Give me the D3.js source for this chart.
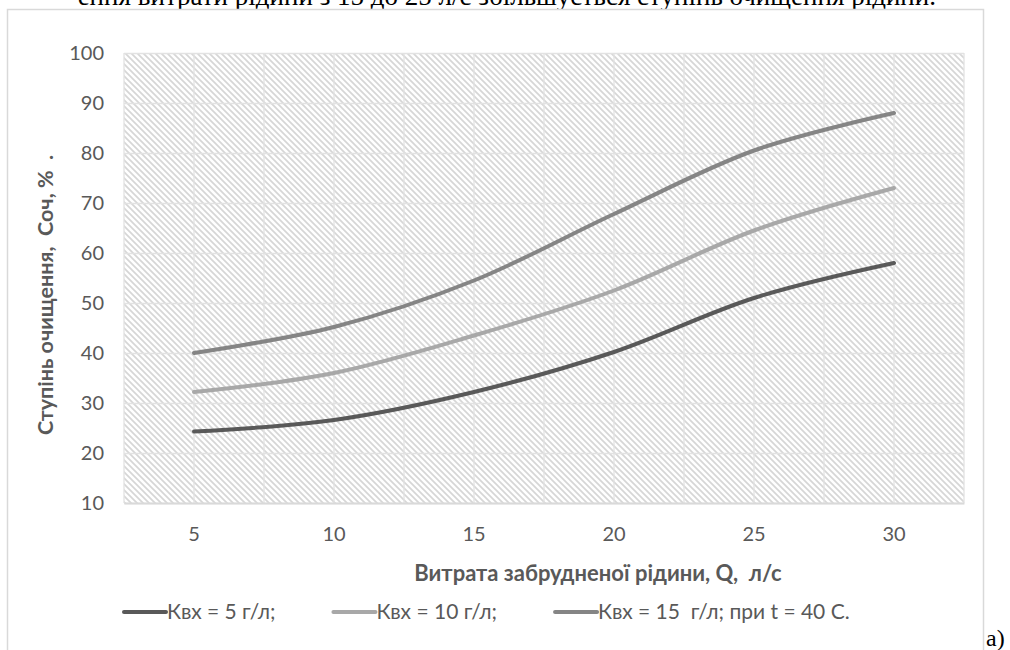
<!DOCTYPE html>
<html>
<head>
<meta charset="utf-8">
<script src="https://cdn.jsdelivr.net/npm/d3@7"></script>
<style>
  body { margin: 0; background: #fff; }
  svg { display: block; }
  text { white-space: pre; }
</style>
</head>
<body>
<div id="chart"></div>
<script>
// data
var categories = [5, 10, 15, 20, 25, 30];
var kvx5 = [24.3, 26.6, 32.2, 40.2, 51.0, 58.0];
var kvx10 = [32.2, 36.0, 43.5, 52.5, 64.5, 73.0];
var kvx15 = [40.0, 45.2, 54.5, 67.8, 80.5, 88.0];
var yTicks = [10, 20, 30, 40, 50, 60, 70, 80, 90, 100];
var seriesNames = ["Квх = 5 г/л;", "Квх = 10 г/л;", "Квх = 15  г/л; при t = 40 С."];
var seriesColors = ["#595959", "#a8a8a8", "#858585"];

var width = 1010, height = 650;
var font = "Lato, 'Open Sans', sans-serif";

var svg = d3.select("#chart").append("svg")
    .attr("width", width)
    .attr("height", height);

// hatch fill for the plot area
var defs = svg.append("defs");
var pat = defs.append("pattern")
    .attr("id", "hatch")
    .attr("patternUnits", "userSpaceOnUse")
    .attr("width", 6)
    .attr("height", 6);
pat.append("rect").attr("width", 6).attr("height", 6).attr("fill", "#fff");
pat.append("path")
    .attr("d", "M-1,-1 L7,7 M-4,2 L2,8 M2,-4 L8,2")
    .attr("stroke", "#d6d6d6")
    .attr("stroke-width", 1.7);

// document text cut off at the top
svg.append("text")
    .attr("x", 936)
    .attr("y", 5)
    .attr("text-anchor", "end")
    .style("font-family", "'Liberation Serif', serif")
    .style("font-size", "27px")
    .attr("fill", "#000")
    .text("ення витрати рідини з 15 до 25 л/с збільшується ступінь очищення рідини.");

// chart frame
svg.append("rect")
    .attr("x", 7.5)
    .attr("y", 9.5)
    .attr("width", 976)
    .attr("height", 660)
    .attr("fill", "#fff")
    .attr("stroke", "#d9d9d9")
    .attr("stroke-width", 1.5);

var plot = { left: 124, right: 964, top: 53, bottom: 503 };

var x = d3.scaleBand()
    .domain(categories)
    .range([plot.left, plot.right]);

var y = d3.scaleLinear()
    .domain([10, 100])
    .range([plot.bottom, plot.top]);

var cx = function (c) { return x(c) + x.bandwidth() / 2; };

// plot background
svg.append("rect")
    .attr("x", plot.left)
    .attr("y", plot.top)
    .attr("width", plot.right - plot.left)
    .attr("height", plot.bottom - plot.top)
    .attr("fill", "url(#hatch)");

// vertical gridlines at category edges and centres
var vLines = [];
categories.forEach(function (c) { vLines.push(x(c)); vLines.push(cx(c)); });
vLines.push(plot.right);
svg.append("g").selectAll("line")
    .data(vLines)
    .join("line")
    .attr("x1", function (d) { return d; })
    .attr("x2", function (d) { return d; })
    .attr("y1", plot.top)
    .attr("y2", plot.bottom)
    .attr("stroke", "#e2e2e2")
    .attr("stroke-width", 1.3);

// horizontal gridlines
svg.append("g")
    .attr("transform", "translate(" + plot.left + ",0)")
    .call(d3.axisLeft(y).tickValues(yTicks).tickSize(-(plot.right - plot.left)).tickFormat(""))
    .call(function (g) {
        g.select(".domain").remove();
        g.selectAll("line").attr("stroke", "#e2e2e2").attr("stroke-width", 1.3);
    });

// y tick labels
svg.append("g")
    .attr("transform", "translate(" + plot.left + ",0)")
    .call(d3.axisLeft(y).tickValues(yTicks).tickSize(0).tickPadding(20))
    .call(function (g) {
        g.select(".domain").remove();
        g.selectAll("text")
            .style("font-family", font)
            .style("font-size", "20px")
            .attr("fill", "#595959");
    });

// x axis
svg.append("g")
    .attr("transform", "translate(0," + plot.bottom + ")")
    .call(d3.axisBottom(x).tickSize(0).tickPadding(24))
    .call(function (g) {
        g.select(".domain").attr("stroke", "#d9d9d9").attr("stroke-width", 2);
        g.selectAll("text")
            .style("font-family", font)
            .style("font-size", "20px")
            .attr("fill", "#595959");
    });

// axis titles
svg.append("text")
    .attr("x", 598)
    .attr("y", 581)
    .attr("text-anchor", "middle")
    .style("font-family", font)
    .style("font-size", "22px")
    .style("font-weight", "bold")
    .attr("fill", "#595959")
    .text("Витрата забрудненої рідини, Q,  л/с");

svg.append("text")
    .attr("transform", "translate(53,295) rotate(-90)")
    .attr("text-anchor", "middle")
    .style("font-family", font)
    .style("font-size", "21.5px")
    .style("font-weight", "bold")
    .attr("fill", "#595959")
    .text("Ступінь очищення,  Соч, %  .");

// series lines
var line = d3.line()
    .x(function (d, i) { return cx(categories[i]); })
    .y(function (d) { return y(d); })
    .curve(d3.curveCardinal.tension(0));

var allSeries = [kvx5, kvx10, kvx15];
svg.append("g").selectAll("path")
    .data(allSeries)
    .join("path")
    .attr("d", line)
    .attr("fill", "none")
    .attr("stroke", function (d, i) { return seriesColors[i]; })
    .attr("stroke-width", 4)
    .attr("stroke-linecap", "round")
    .attr("stroke-linejoin", "round");

// legend, laid out from measured text widths
var legend = svg.append("g");
var lx = 124;
seriesNames.forEach(function (name, i) {
    var item = legend.append("g").attr("transform", "translate(" + lx + ",612)");
    item.append("line")
        .attr("x1", 0).attr("x2", 42)
        .attr("stroke", seriesColors[i])
        .attr("stroke-width", 4)
        .attr("stroke-linecap", "round");
    var t = item.append("text")
        .attr("x", 43)
        .attr("dy", "0.35em")
        .style("font-family", font)
        .style("font-size", "21px")
        .attr("fill", "#595959")
        .text(name);
    lx += 43 + t.node().getComputedTextLength() + 58;
});

// figure label
svg.append("text")
    .attr("x", 986)
    .attr("y", 646)
    .style("font-family", "'Liberation Serif', serif")
    .style("font-size", "24px")
    .attr("fill", "#000")
    .text("а)");
</script>
</body>
</html>
